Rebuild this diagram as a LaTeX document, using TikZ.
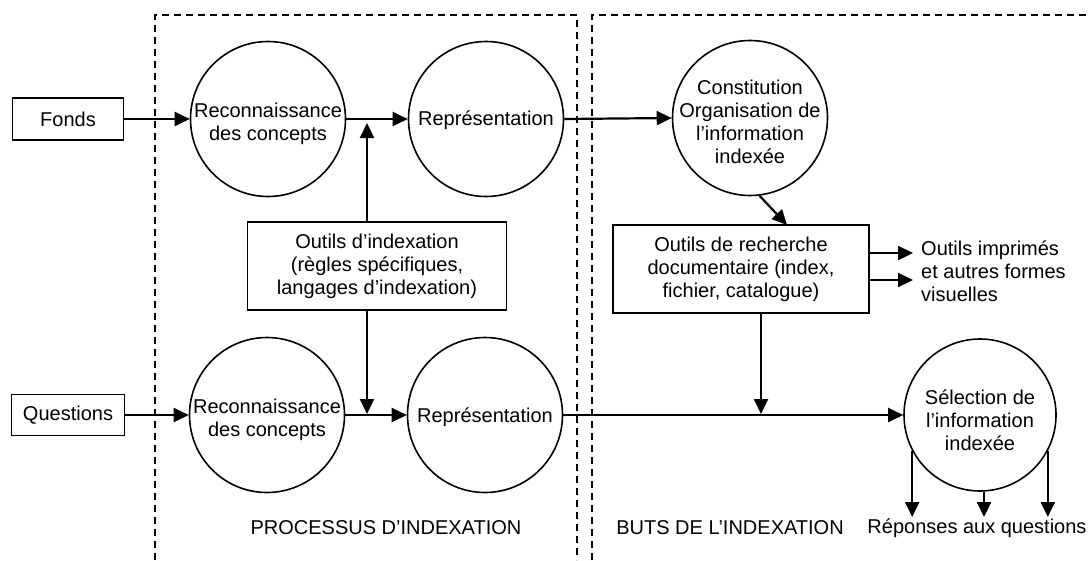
\documentclass[tikz,border=0pt]{standalone}
\usepackage{fontspec}
\setmainfont{Liberation Sans}
\usetikzlibrary{arrows.meta,calc}
\begin{document}
\begin{tikzpicture}[x=1pt,y=-1pt,
  every node/.style={font=\fontsize{20}{23}\selectfont, inner sep=0pt},
  box/.style={draw, line width=1.6pt, align=center},
  circ/.style={draw, circle, line width=1.6pt, minimum size=#1},
  circ/.default=155pt,
  txt/.style={align=center},
  arr/.style={line width=2.2pt, -{Triangle[length=15pt,width=14pt]}},
  frame/.style={line width=1.6pt, dash pattern=on 7pt off 5pt}]
\useasboundingbox (0,0) rectangle (1091,560);

% dashed frames
\draw[frame] (155,560) -- (155,15) -- (577,15) -- (577,560);
\draw[frame] (592,560) -- (592,15) -- (1091,15);

% input boxes
\node[box, minimum width=111pt, minimum height=42pt] (fonds) at (68,119) {Fonds};
\node[box, minimum width=113pt, minimum height=41pt] (q) at (68,415) {Questions};

% circles
\node[circ] (rc1) at (268,119) {};
\node[txt] (rc1t) at (268,124) {Reconnaissance\\des concepts};
\node[circ] (rp1) at (486,119) {};
\node[txt] (rp1t) at (486,120) {Représentation};
\node[circ] (const) at (750,118) {};
\node[txt] (constt) at (750,122) {Constitution\\Organisation de\\l’information\\indexée};
\node[circ] (rc2) at (267,415) {};
\node[txt] (rc2t) at (267,420) {Reconnaissance\\des concepts};
\node[circ] (rp2) at (485,415) {};
\node[txt] (rp2t) at (485,417) {Représentation};
\node[circ=152pt] (sel) at (980,415) {};
\node[txt] (selt) at (980,420) {Sélection de\\l’information\\indexée};

% tool boxes
\node[box, minimum width=259pt, minimum height=88pt] (oi) at (377,266)
  {Outils d’indexation\\(règles spécifiques,\\langages d’indexation)};
\node[box, minimum width=256pt, minimum height=88pt] (ord) at (741,269)
  {Outils de recherche\\documentaire (index,\\fichier, catalogue)};

% text labels
\node[anchor=west, align=left] (imp) at (921,271) {Outils imprimés\\et autres formes\\visuelles};
\node (proc) at (386,528) {PROCESSUS D’INDEXATION};
\node (buts) at (730,528) {BUTS DE L’INDEXATION};
\node (resp) at (977,528) {Réponses aux questions};

% helper coordinates
\coordinate (tu) at (367,123);
\coordinate (td) at (367,414);
\coordinate (rd) at (761,414);
\coordinate (dg) at (787,225);
\coordinate (imp1) at (913,253);
\coordinate (imp2) at (913,280);
\coordinate (rl) at (913,517);
\coordinate (rm) at (984,517);
\coordinate (rr) at (1048,517);

% connectors
\draw[arr] (fonds.east) -- (rc1.west);
\draw[arr] (rc1.east) -- (rp1.west);
\draw[arr] (rp1.east) -- (const.west);
\draw[arr] (q.east) -- (rc2.west);
\draw[arr] (rc2.east) -- (rp2.west);
\draw[arr] (rp2.east) -- (sel.west);
\draw[arr] (tu |- oi.north) -- (tu);
\draw[arr] (td |- oi.south) -- (td);
\draw[arr] (ord.south -| rd) -- (rd);
\draw[arr] (const.-83) -- (dg);
\draw[arr] (ord.east |- imp1) -- (imp1);
\draw[arr] (ord.east |- imp2) -- (imp2);
\draw[arr] (sel.208) -- (sel.208 |- rl);
\draw[arr] (rm |- sel.south) -- (rm);
\draw[arr] (sel.-28) -- (sel.-28 |- rr);
\end{tikzpicture}
\end{document}
